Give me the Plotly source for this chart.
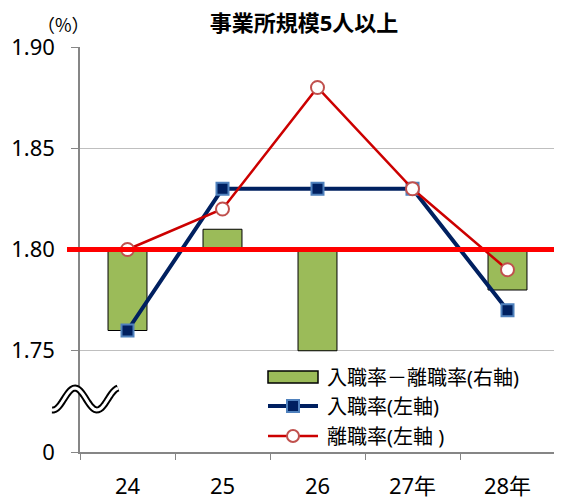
import math
import plotly.graph_objects as go

# ---- data ----
categories = ["24", "25", "26", "27年", "28年"]
hire_rate = [1.76, 1.83, 1.83, 1.83, 1.77]      # 入職率(左軸)
sep_rate = [1.80, 1.82, 1.88, 1.83, 1.79]       # 離職率(左軸)
diff = [round(h - s, 2) for h, s in zip(hire_rate, sep_rate)]  # 入職率－離職率(右軸)
bar_base = 1.80
ref_level = 1.80
y_tick_vals = [1.70, 1.75, 1.80, 1.85, 1.90]
y_tick_text = ["0", "1.75", "1.80", "1.85", "1.90"]
legend_names = ["入職率－離職率(右軸)", "入職率(左軸)", "離職率(左軸 )"]

# page body adds an 8px offset
OFF = 8
W, H = 562 - OFF, 499 - OFF
PL, PR, PT, PB = 80, 555, 47, 452   # plot area in screenshot pixels
L, T, B = PL - OFF, PT - OFF, 499 - PB
pw, ph = PR - PL, PB - PT


def px(x):
    return (x - PL) / pw


def py(y):
    return (PB - y) / ph


FONT = "Noto Sans, Noto Sans CJK JP, sans-serif"
GREEN, NAVY, NAVY_EDGE, RED, RED_EDGE = "#9bbb59", "#002060", "#4f81bd", "#cc0000", "#c0504d"

fig = go.Figure()
fig.add_trace(go.Bar(
    x=categories, y=diff, base=bar_base, name=legend_names[0],
    marker=dict(color=GREEN, line=dict(color="#000000", width=1)),
    width=0.41,
))
fig.add_trace(go.Scatter(
    x=categories, y=hire_rate, name=legend_names[1], mode="lines+markers",
    line=dict(color=NAVY, width=4),
    marker=dict(symbol="square", size=12, color=NAVY,
                line=dict(color=NAVY_EDGE, width=2)),
))
fig.add_trace(go.Scatter(
    x=categories, y=sep_rate, name=legend_names[2], mode="lines+markers",
    line=dict(color=RED, width=2.5),
    marker=dict(symbol="circle", size=13, color="#ffffff",
                line=dict(color=RED_EDGE, width=2)),
))

shapes = [
    dict(type="line", xref="paper", yref="y", x0=px(67), x1=px(570),
         y0=ref_level, y1=ref_level, line=dict(color="#ff0000", width=5),
         layer="above"),
]
# axis break symbol
pts = []
for i in range(41):
    x = 52 + (118 - 52) * i / 40
    y = 399 - 11 * math.cos(2 * math.pi * (x - 75) / 44)
    pts.append((px(x), py(y)))
path = "M " + " L ".join(f"{a:.5f},{b:.5f}" for a, b in pts)
shapes.append(dict(type="path", xref="paper", yref="paper", path=path,
                   line=dict(color="#000000", width=7), layer="above"))
shapes.append(dict(type="path", xref="paper", yref="paper", path=path,
                   line=dict(color="#ffffff", width=3), layer="above"))

# custom legend (symbols)
lx0, lx1, lxm = 268, 318, 293
ly = [377, 406, 436]
shapes.append(dict(type="rect", xref="paper", yref="paper", x0=px(lx0), x1=px(lx1),
                   y0=py(ly[0] - 6), y1=py(ly[0] + 6), fillcolor=GREEN,
                   line=dict(color="#000000", width=1.5), layer="above"))
shapes.append(dict(type="line", xref="paper", yref="paper", x0=px(lx0), x1=px(lx1),
                   y0=py(ly[1]), y1=py(ly[1]), line=dict(color=NAVY, width=4), layer="above"))
shapes.append(dict(type="rect", xref="paper", yref="paper", x0=px(lxm - 6), x1=px(lxm + 6),
                   y0=py(ly[1] - 6), y1=py(ly[1] + 6), fillcolor=NAVY,
                   line=dict(color=NAVY_EDGE, width=2), layer="above"))
shapes.append(dict(type="line", xref="paper", yref="paper", x0=px(lx0), x1=px(lx1),
                   y0=py(ly[2]), y1=py(ly[2]), line=dict(color=RED, width=2.5), layer="above"))
shapes.append(dict(type="circle", xref="paper", yref="paper", x0=px(lxm - 6), x1=px(lxm + 6),
                   y0=py(ly[2] - 6), y1=py(ly[2] + 6), fillcolor="#ffffff",
                   line=dict(color=RED_EDGE, width=2), layer="above"))

annotations = [dict(text="（%）", xref="paper", yref="paper", x=px(63), y=py(24),
                    xanchor="center", yanchor="middle", showarrow=False,
                    font=dict(size=18, family="Noto Sans CJK JP, sans-serif"))]
for name, yy in zip(legend_names, ly):
    annotations.append(dict(text=name, xref="paper", yref="paper", x=px(325), y=py(yy),
                            xanchor="left", yanchor="middle", showarrow=False,
                            font=dict(size=20, family=FONT)))

fig.update_layout(
    width=W, height=H,
    margin=dict(l=L, r=562 - PR, t=T, b=B, autoexpand=False),
    paper_bgcolor="white", plot_bgcolor="white",
    font=dict(family=FONT, color="#000000"),
    showlegend=False,
    barmode="overlay",
    title=dict(text="<b>事業所規模5人以上</b>", x=(304 - OFF) / W,
               xanchor="center", y=1 - (23 - OFF) / H, yanchor="middle",
               font=dict(size=22, family=FONT)),
    annotations=annotations,
    shapes=shapes,
)
fig.update_xaxes(
    type="category", showline=True, linecolor="#868686", linewidth=1.5,
    ticks="outside", tickson="boundaries", ticklen=6, tickcolor="#868686",
    showgrid=False, tickfont=dict(size=22, family=FONT), range=[-0.5, 4.5],
    ticklabelstandoff=14,
)
fig.update_yaxes(
    range=[1.70, 1.90], tickvals=y_tick_vals, ticktext=y_tick_text,
    showline=True, mirror=True, linecolor="#868686", linewidth=1.5,
    ticks="outside", ticklen=7, tickcolor="#868686",
    showgrid=True, gridcolor="#bfbfbf", gridwidth=1,
    tickfont=dict(size=22, family=FONT), zeroline=False,
    ticklabelstandoff=12,
)

fig.write_html("out.html")
